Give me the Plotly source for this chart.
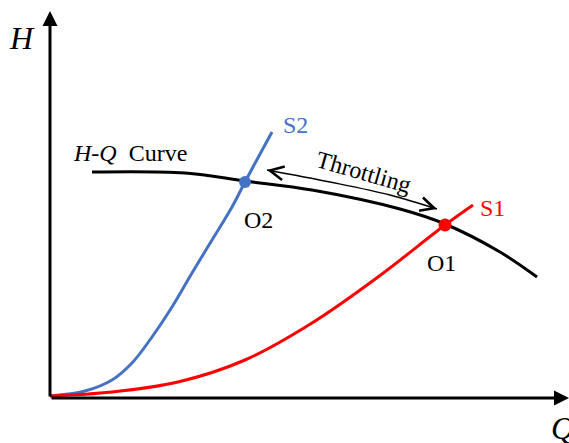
import plotly.graph_objects as go

# Pump H-Q characteristic (flow Q, head H)
hq_q = [42, 135, 195, 262, 350, 395, 450, 487]
hq_h = [226, 225, 217, 208, 189, 174, 146, 121]

# System curve S2 (throttled valve)
s2_q = [0, 35, 62, 82, 102, 122, 142, 162, 182, 195, 222]
s2_h = [2, 7, 18, 35, 61, 91, 125, 158, 191, 216, 266]

# System curve S1 (open valve)
s1_q = [0, 62, 128, 195, 262, 328, 395, 423]
s1_h = [2, 6, 16, 38, 75, 121, 173, 193]

# Operating points
o2 = (195, 216)
o1 = (395, 173)

# Throttling path between the operating points
thr_q = [217, 280, 340, 387]
thr_h = [228, 216, 203, 189]

FONT = "Liberation Serif"
BLUE = "#4472C4"
RED = "#FF0000"

fig = go.Figure()

fig.add_trace(go.Scatter(x=hq_q, y=hq_h, mode="lines",
                         line=dict(color="black", width=3, shape="spline", smoothing=1)))
fig.add_trace(go.Scatter(x=s2_q, y=s2_h, mode="lines",
                         line=dict(color=BLUE, width=3, shape="spline", smoothing=1)))
fig.add_trace(go.Scatter(x=s1_q, y=s1_h, mode="lines",
                         line=dict(color=RED, width=3, shape="spline", smoothing=1)))
fig.add_trace(go.Scatter(x=thr_q, y=thr_h, mode="lines",
                         line=dict(color="black", width=1.5, shape="spline", smoothing=1)))
fig.add_trace(go.Scatter(x=[o2[0]], y=[o2[1]], mode="markers",
                         marker=dict(color=BLUE, size=12)))
fig.add_trace(go.Scatter(x=[o1[0]], y=[o1[1]], mode="markers",
                         marker=dict(color=RED, size=13)))

ann = []
# Coordinate axes with arrows
ann.append(dict(x=0, y=387, ax=0, ay=0, xref="x", yref="y", axref="x", ayref="y",
                showarrow=True, arrowhead=2, arrowsize=1, arrowwidth=3, arrowcolor="black", text=""))
ann.append(dict(x=519, y=0, ax=0, ay=0, xref="x", yref="y", axref="x", ayref="y",
                showarrow=True, arrowhead=2, arrowsize=1, arrowwidth=3, arrowcolor="black", text=""))
# Throttling arrow heads
ann.append(dict(x=thr_q[0], y=thr_h[0], ax=thr_q[0] + 8, ay=thr_h[0] - 1.6,
                xref="x", yref="y", axref="x", ayref="y", showarrow=True,
                arrowhead=5, arrowsize=1.8, arrowwidth=1.5, arrowcolor="black", text=""))
ann.append(dict(x=thr_q[-1], y=thr_h[-1], ax=thr_q[-1] - 8, ay=thr_h[-1] + 2.4,
                xref="x", yref="y", axref="x", ayref="y", showarrow=True,
                arrowhead=5, arrowsize=1.8, arrowwidth=1.5, arrowcolor="black", text=""))


def label(text, x, y, color="black", size=24, angle=0, xanchor="center"):
    ann.append(dict(x=x, y=y, xref="x", yref="y", text=text, showarrow=False,
                    font=dict(family=FONT, size=size, color=color),
                    textangle=angle, xanchor=xanchor, yanchor="middle"))


label("<i>H</i>", -28, 360, size=32)
label("<i>Q</i>", 499, -30, size=32, xanchor="left")
label("S2", 245, 273, color=BLUE)
label("S1", 442, 190, color=RED)
label("O2", 208, 178)
label("O1", 391, 135)
label("<i>H-Q</i>&nbsp;&nbsp;Curve", 80, 245)
label("Throttling", 313, 226, angle=16)

fig.update_layout(
    annotations=ann,
    width=569, height=443, autosize=False,
    margin=dict(l=0, r=0, t=0, b=0),
    paper_bgcolor="white", plot_bgcolor="white",
    showlegend=False,
    xaxis=dict(range=[-50, 519], visible=False),
    yaxis=dict(range=[-45, 398], visible=False),
)

fig.write_html("out.html")
